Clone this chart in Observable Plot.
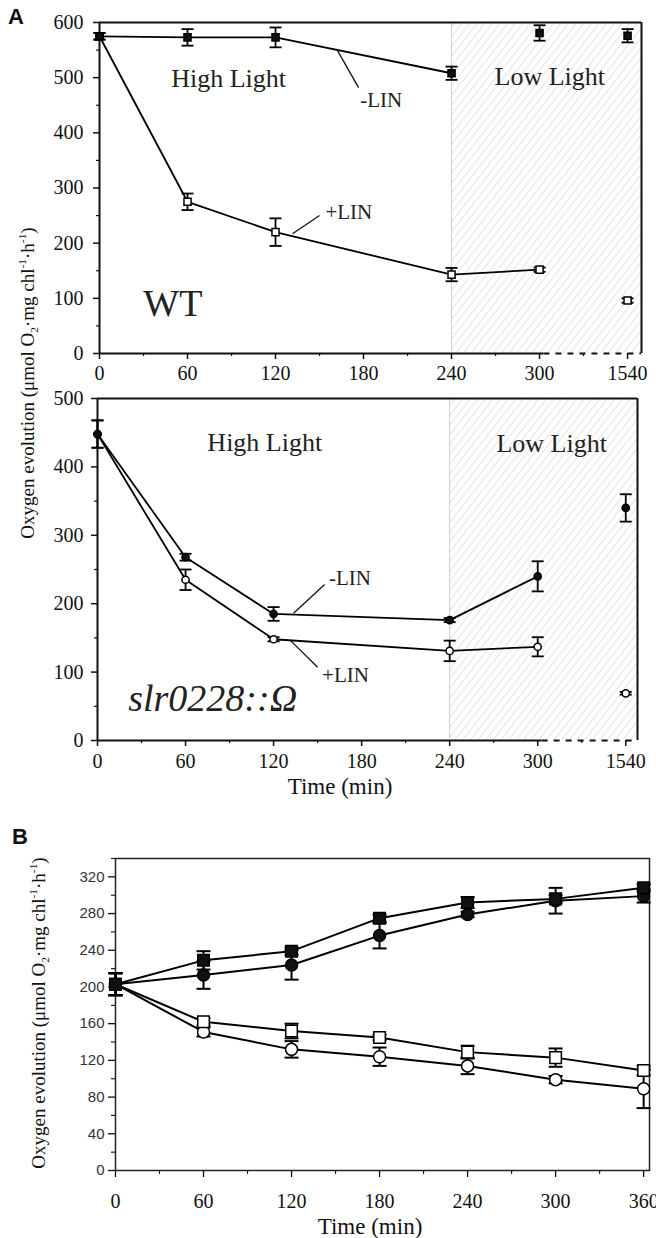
<!DOCTYPE html>
<html><head><meta charset="utf-8">
<script src="https://cdn.jsdelivr.net/npm/d3@7"></script>
<script src="https://cdn.jsdelivr.net/npm/@observablehq/plot@0.6"></script>
<style>
body{margin:0;background:#fff;}
#wrap{position:relative;width:656px;height:1238px;overflow:hidden;font-family:"Liberation Serif","Times New Roman",serif;color:#111;}
.fig{position:absolute;left:0;overflow:visible;}
.letter{position:absolute;font-family:"Liberation Sans",Arial,sans-serif;font-weight:bold;font-size:22px;line-height:1;}
.ylab{position:absolute;white-space:nowrap;font-size:19px;line-height:1;transform:translate(-50%,-50%) rotate(-90deg);}
.ylab sub,.ylab sup{font-size:0.6em;}
.xlab{position:absolute;white-space:nowrap;font-size:23px;line-height:1;transform:translate(-50%,-50%);}
</style></head>
<body><div id="wrap"></div>
<script>
// ---------- data: panel A ----------
const timesA = [0, 60, 120, 240, 300, 1540];
const xTicksA = [0, 60, 120, 180, 240, 300, 1540];
const yTicksWT = [0, 100, 200, 300, 400, 500, 600];
const yTicksMut = [0, 100, 200, 300, 400, 500];
const lowLightStart = 240;

const wtMinusLin    = [575, 573, 573, 508, 581, 576];
const wtMinusLinErr = [6, 15, 18, 12, 14, 12];
const wtPlusLin     = [575, 275, 220, 143, 152, 96];
const wtPlusLinErr  = [6, 15, 25, 12, 4, 4];

const mutMinusLin    = [448, 268, 185, 176, 240, 340];
const mutMinusLinErr = [20, 5, 10, 3, 22, 20];
const mutPlusLin     = [448, 235, 148, 131, 137, 69];
const mutPlusLinErr  = [20, 15, 3, 15, 14, 2];

// ---------- data: panel B ----------
const timesB = [0, 60, 120, 180, 240, 300, 360];
const yTicksB = [0, 40, 80, 120, 160, 200, 240, 280, 320];
const bFilledSquare    = [203, 229, 239, 275, 292, 296, 308];
const bFilledSquareErr = [12, 10, 4, 4, 6, 4, 4];
const bFilledCircle    = [203, 213, 224, 256, 279, 294, 299];
const bFilledCircleErr = [12, 15, 16, 14, 3, 14, 7];
const bOpenSquare      = [203, 162, 152, 145, 129, 123, 109];
const bOpenSquareErr   = [12, 4, 8, 3, 7, 10, 5];
const bOpenCircle      = [203, 151, 132, 124, 114, 99, 89];
const bOpenCircleErr   = [12, 5, 9, 10, 9, 4, 21];

// ---------- helpers ----------
const SERIF = '"Liberation Serif","Times New Roman",serif';
const SANS = '"Liberation Sans",Arial,sans-serif';
const breakTime = 1540, breakSlot = 360;   // axis break: 1540 drawn in the 360 slot
const pos = t => (t === breakTime ? breakSlot : t);
const cap = {draw(ctx, size) { const r = Math.sqrt(size / Math.PI); ctx.moveTo(-r, 0); ctx.lineTo(r, 0); }};

function hatchDefs(id) {
  return () => {
    const defs = d3.create("svg:defs");
    const p = defs.append("pattern").attr("id", id).attr("patternUnits", "userSpaceOnUse")
      .attr("width", 6).attr("height", 6).attr("patternTransform", "rotate(38)");
    p.append("line").attr("x1", 0).attr("y1", 0).attr("x2", 0).attr("y2", 6)
      .attr("stroke", "#c4c4c4").attr("stroke-width", 0.9);
    return defs.node();
  };
}

function series(rows, key, errKey, sym, fill, r, capR, sw, lineFilter) {
  return [
    Plot.line(rows.filter(lineFilter), {x: "x", y: key, stroke: "black", strokeWidth: sw}),
    Plot.ruleX(rows, {x: "x", y1: d => d[key] - d[errKey], y2: d => d[key] + d[errKey], stroke: "black", strokeWidth: sw}),
    Plot.dot(rows, {x: "x", y: d => d[key] - d[errKey], symbol: cap, r: capR, stroke: "black", strokeWidth: sw}),
    Plot.dot(rows, {x: "x", y: d => d[key] + d[errKey], symbol: cap, r: capR, stroke: "black", strokeWidth: sw}),
    Plot.dot(rows, {x: "x", y: key, symbol: sym, r, fill, stroke: "black", strokeWidth: 1.5})
  ];
}

function panelA(o) {
  const rows = timesA.map((t, i) => ({t, x: pos(t), m: o.minus[i], me: o.minusErr[i], p: o.plus[i], pe: o.plusErr[i]}));
  const tickPos = xTicksA.map(pos);
  const yMax = o.yTicks[o.yTicks.length - 1];
  const yMinor = o.yTicks.slice(0, -1).map(v => v + 50);
  const xMinor = [30, 90, 150, 210, 270, 330];
  const hid = o.id + "-hatch";
  return Plot.plot({
    width: 656, height: o.height,
    marginTop: o.mt, marginBottom: o.mb, marginLeft: o.ml, marginRight: o.mr,
    x: {domain: [0, o.xMax], axis: null},
    y: {domain: [0, yMax], axis: null},
    style: {fontFamily: SERIF, fontSize: "20px", color: "#111", background: "transparent", overflow: "visible"},
    marks: [
      hatchDefs(hid),
      Plot.rect([0], {x1: () => lowLightStart, x2: () => o.xMax, y1: () => 0, y2: () => yMax, fill: `url(#${hid})`}),
      Plot.ruleX([lowLightStart], {stroke: "#cfcfcf", strokeWidth: 1}),
      Plot.ruleX([0, o.xMax], {stroke: "#111", strokeWidth: 2}),
      Plot.ruleY([yMax], {stroke: "#111", strokeWidth: 2}),
      Plot.ruleY([0], {x1: () => 0, x2: () => 303, stroke: "#111", strokeWidth: 2}),
      Plot.ruleY([0], {x1: () => 303, x2: () => o.xMax, stroke: "#111", strokeWidth: 2, strokeDasharray: "6,6"}),
      Plot.axisY(o.yTicks, {tickSize: 6, tickPadding: o.ypad, strokeWidth: 1.5, label: null}),
      Plot.axisY(yMinor, {tickSize: 3, strokeWidth: 1.2, fill: "none", label: null}),
      Plot.axisX(tickPos, {tickSize: 6, tickPadding: o.xpad, strokeWidth: 1.5, label: null,
        tickFormat: d => String(xTicksA[tickPos.indexOf(d)])}),
      Plot.axisX(xMinor, {tickSize: 3, strokeWidth: 1.2, fill: "none", label: null}),
      Plot.link(o.leaders, {x1: "x1", y1: "y1", x2: "x2", y2: "y2", stroke: "#111", strokeWidth: 1.3}),
      ...series(rows, "p", "pe", o.symbol, "white", o.r, 6, 1.8, d => d.t <= o.plusTo),
      ...series(rows, "m", "me", o.symbol, "#111", o.r, 6, 1.8, d => d.t <= o.minusTo),
      Plot.text(o.notes, {x: "x", y: "y", text: "text", fontSize: "size",
        fontFamily: SERIF, textAnchor: "middle", lineAnchor: "middle", fill: "#222"}),
      Plot.text([o.name], {x: () => o.nameX, y: () => o.nameY, text: d => d, fontSize: 38,
        fontStyle: o.nameStyle, fontFamily: SERIF, textAnchor: "middle", lineAnchor: "middle", fill: "#222"})
    ]
  });
}

const wrap = document.getElementById("wrap");
function place(node, top) { node.classList.add("fig"); node.style.top = top + "px"; wrap.appendChild(node); }

// Panel A, WT
place(panelA({
  id: "wt", height: 386, mt: 22, mb: 33, ml: 99, mr: 15, xMax: 369.5, ypad: 10, xpad: 6,
  yTicks: yTicksWT, minus: wtMinusLin, minusErr: wtMinusLinErr, plus: wtPlusLin, plusErr: wtPlusLinErr,
  symbol: "square", r: 4, minusTo: 240, plusTo: 300,
  leaders: [{x1: 162.3, y1: 549, x2: 176.6, y2: 482}, {x1: 131.6, y1: 217, x2: 150, y2: 250}],
  notes: [
    {text: "High Light", x: 88, y: 498, size: 26},
    {text: "Low Light", x: 307, y: 502, size: 26},
    {text: "-LIN", x: 192, y: 459, size: 21},
    {text: "+LIN", x: 170, y: 256, size: 21}
  ],
  name: "WT", nameX: 50, nameY: 90, nameStyle: "normal"
}), 0);

// Panel A, slr0228::Ω
place(panelA({
  id: "mut", height: 406, mt: 12, mb: 52, ml: 97, mr: 19, xMax: 368, ypad: 8, xpad: 7,
  yTicks: yTicksMut, minus: mutMinusLin, minusErr: mutMinusLinErr, plus: mutPlusLin, plusErr: mutPlusLinErr,
  symbol: "circle", r: 3.6, minusTo: 300, plusTo: 300,
  leaders: [{x1: 133.6, y1: 186, x2: 154.8, y2: 228}, {x1: 131.6, y1: 146, x2: 150, y2: 107}],
  notes: [
    {text: "High Light", x: 114, y: 436, size: 26},
    {text: "Low Light", x: 309.5, y: 434, size: 26},
    {text: "-LIN", x: 172, y: 237, size: 21},
    {text: "+LIN", x: 169, y: 95, size: 21}
  ],
  name: "slr0228::Ω", nameX: 78.5, nameY: 61, nameStyle: "italic"
}), 386);

// Panel B
const rowsB = timesB.map((t, i) => ({
  x: t,
  fs: bFilledSquare[i], fse: bFilledSquareErr[i],
  fc: bFilledCircle[i], fce: bFilledCircleErr[i],
  os: bOpenSquare[i], ose: bOpenSquareErr[i],
  oc: bOpenCircle[i], oce: bOpenCircleErr[i]
}));
const all = () => true;
place(Plot.plot({
  width: 656, height: 438, marginTop: 58, marginBottom: 68, marginLeft: 115, marginRight: 7,
  x: {domain: [0, 364], axis: null},
  y: {domain: [0, 340], axis: null},
  style: {fontFamily: SERIF, fontSize: "20px", color: "#111", background: "transparent"},
  marks: [
    Plot.frame({stroke: "#222", strokeWidth: 1.5}),
    Plot.axisY(yTicksB, {tickSize: 7, tickPadding: 4, strokeWidth: 1.3, fontFamily: SANS, fontSize: 15, fill: "#333", label: null}),
    Plot.axisY(yTicksB.slice(0, -1).map(v => v + 20).concat([340]), {tickSize: 4, strokeWidth: 1.1, fill: "none", label: null}),
    Plot.axisX(timesB, {tickSize: 7, tickPadding: 16, strokeWidth: 1.3, label: null}),
    Plot.axisX(timesB.slice(0, -1).map(v => v + 30), {tickSize: 4, strokeWidth: 1.1, fill: "none", label: null}),
    ...series(rowsB, "oc", "oce", "circle", "white", 6, 7, 2, all),
    ...series(rowsB, "os", "ose", "square", "white", 6.5, 7, 2, all),
    ...series(rowsB, "fc", "fce", "circle", "#111", 6, 7, 2, all),
    ...series(rowsB, "fs", "fse", "square", "#111", 6.5, 7, 2, all)
  ]
}), 800);

// HTML labels
function addDiv(cls, html, left, top) {
  const d = document.createElement("div"); d.className = cls; d.innerHTML = html;
  d.style.left = left + "px"; d.style.top = top + "px"; wrap.appendChild(d); return d;
}
const yLabel = 'Oxygen evolution (μmol O<sub>2</sub>·mg chl<sup>-1</sup>·h<sup>-1</sup>)';
addDiv("letter", "A", 8, 6);
addDiv("letter", "B", 12, 826);
addDiv("ylab", yLabel, 29, 383);
addDiv("ylab", yLabel, 40, 1013);
addDiv("xlab", "Time (min)", 340, 786);
addDiv("xlab", "Time (min)", 370, 1226);
</script>
</body></html>
